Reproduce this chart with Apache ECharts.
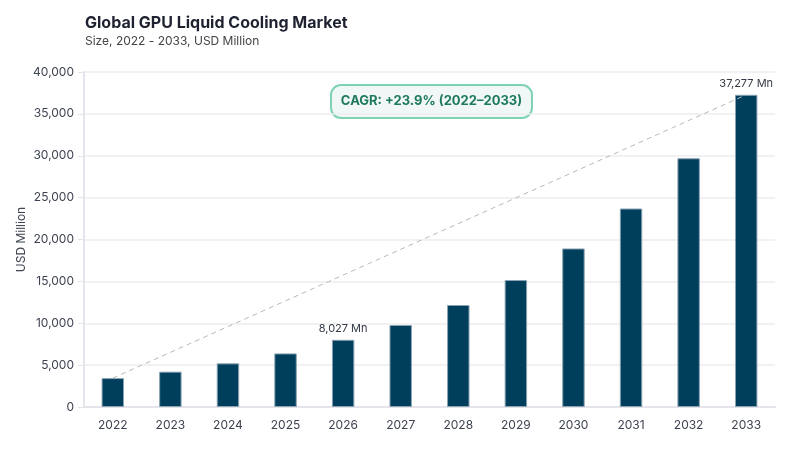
<!DOCTYPE html>
<html>
<head>
<meta charset="utf-8">
<style>
  html, body { margin: 0; padding: 0; background: #fff; }
  #chart_main { width: 800px; height: 450px; }
</style>
</head>
<body>
<div id="chart_main"></div>
<script src="https://cdn.jsdelivr.net/npm/echarts@6/dist/echarts.min.js"></script>
<script type="text/javascript">
  // data
  var years = ['2022', '2023', '2024', '2025', '2026', '2027', '2028', '2029', '2030', '2031', '2032', '2033'];
  var marketSize = [3450, 4220, 5210, 6400, 8027, 9790, 12180, 15160, 18930, 23700, 29700, 37277];
  var labelledYears = ['2026', '2033'];
  var cagrText = 'CAGR: +23.9% (2022–2033)';

  var myChart = echarts.init(document.getElementById('chart_main'));
  var font = 'Inter, "Noto Sans", sans-serif';

  var barData = marketSize.map(function (v, i) {
    var item = { value: v };
    if (labelledYears.indexOf(years[i]) >= 0) {
      item.label = {
        show: true,
        position: 'top',
        distance: 6,
        formatter: function (p) { return echarts.format.addCommas(p.value) + ' Mn'; },
        color: '#333a45',
        fontSize: 11,
        fontFamily: font
      };
    }
    return item;
  });

  myChart.setOption({
    animation: false,
    title: [{
      text: 'Global GPU Liquid Cooling Market',
      left: 85, top: 15, padding: 0,
      textStyle: { fontSize: 16, fontWeight: 'bold', color: '#1e2130', fontFamily: font }
    }, {
      text: 'Size, 2022 - 2033, USD Million',
      left: 85, top: 35, padding: 0,
      textStyle: { fontSize: 12, fontWeight: 'normal', color: '#444', fontFamily: font }
    }],
    grid: { left: 84, right: 25, top: 72, bottom: 43 },
    xAxis: {
      type: 'category',
      data: years,
      axisLine: { lineStyle: { color: '#e4e4ea', width: 2 } },
      axisTick: { show: false },
      axisLabel: { color: '#3d4350', fontSize: 12, margin: 12, fontFamily: font }
    },
    yAxis: {
      type: 'value',
      min: 0, max: 40000, interval: 5000,
      name: 'USD Million',
      nameLocation: 'middle',
      nameGap: 57,
      nameMoveOverlap: false,
      nameTextStyle: { color: '#3d4350', fontSize: 12, fontFamily: font },
      axisLine: { show: true, lineStyle: { color: '#e4e4ea', width: 2 } },
      axisTick: { show: true, length: 6, lineStyle: { color: '#e4e4ea' } },
      axisLabel: {
        color: '#3d4350', fontSize: 12, margin: 10, fontFamily: font,
        formatter: function (v) { return echarts.format.addCommas(v); }
      },
      splitLine: { lineStyle: { color: '#ececef', width: 1.5 } }
    },
    series: [{
      type: 'bar',
      data: barData,
      barWidth: '39%',
      itemStyle: { color: '#003f5c', borderColor: '#8aa3b3', borderWidth: 1 },
      markLine: {
        silent: true,
        symbol: 'none',
        label: { show: false },
        lineStyle: { type: [5, 4], color: '#b8b8b8', width: 1 },
        data: [[
          { coord: [years[0], marketSize[0]] },
          { coord: [years[years.length - 1], marketSize[marketSize.length - 1]] }
        ]]
      }
    }],
    graphic: [{
      type: 'group',
      left: 330, top: 84,
      children: [{
        type: 'rect',
        shape: { x: 0, y: 0, width: 201, height: 33, r: 10 },
        style: { fill: '#f1f6f6', stroke: '#7fd3b5', lineWidth: 2 }
      }, {
        type: 'text',
        x: 100.5, y: 16.5,
        style: {
          text: cagrText,
          fill: '#1d7a5c',
          font: 'bold 13px ' + font,
          align: 'center',
          verticalAlign: 'middle'
        }
      }]
    }]
  });
</script>
</body>
</html>
